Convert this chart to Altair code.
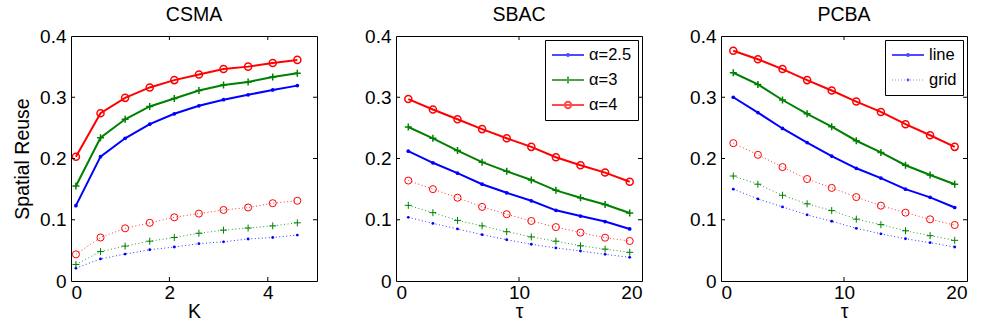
import altair as alt
import pandas as pd

# ---- data -------------------------------------------------------------
K = [0.1, 0.6, 1.1, 1.6, 2.1, 2.6, 3.1, 3.6, 4.1, 4.6]
TAU = [1, 3, 5, 7, 9, 11, 13, 15, 17, 19]
ALPHAS = ["α=2.5", "α=3", "α=4"]
KINDS = ["line", "grid"]

csma_line = [
    [0.123, 0.203, 0.233, 0.256, 0.273, 0.286, 0.296, 0.304, 0.312, 0.319],
    [0.155, 0.234, 0.264, 0.285, 0.298, 0.311, 0.320, 0.325, 0.333, 0.339],
    [0.203, 0.274, 0.299, 0.316, 0.328, 0.337, 0.346, 0.350, 0.356, 0.361],
]
csma_grid = [
    [0.021, 0.036, 0.044, 0.051, 0.0555, 0.061, 0.064, 0.0686, 0.071, 0.075],
    [0.027, 0.048, 0.057, 0.065, 0.071, 0.078, 0.083, 0.0865, 0.090, 0.095],
    [0.0435, 0.071, 0.086, 0.095, 0.104, 0.110, 0.116, 0.120, 0.127, 0.131],
]
sbac_line = [
    [0.212, 0.193, 0.176, 0.158, 0.144, 0.131, 0.1154, 0.106, 0.097, 0.085],
    [0.2514, 0.233, 0.213, 0.194, 0.179, 0.165, 0.148, 0.136, 0.125, 0.111],
    [0.297, 0.280, 0.264, 0.248, 0.233, 0.219, 0.202, 0.189, 0.177, 0.162],
]
sbac_grid = [
    [0.104, 0.094, 0.085, 0.0756, 0.0674, 0.060, 0.054, 0.049, 0.0435, 0.0386],
    [0.1235, 0.1116, 0.099, 0.090, 0.0805, 0.072, 0.065, 0.0575, 0.052, 0.0468],
    [0.164, 0.150, 0.136, 0.121, 0.109, 0.098, 0.088, 0.079, 0.0707, 0.0653],
]
pcba_line = [
    [0.300, 0.275, 0.249, 0.226, 0.204, 0.184, 0.168, 0.150, 0.1366, 0.120],
    [0.340, 0.321, 0.2955, 0.273, 0.252, 0.229, 0.210, 0.189, 0.173, 0.158],
    [0.376, 0.362, 0.346, 0.328, 0.311, 0.293, 0.276, 0.256, 0.238, 0.219],
]
pcba_grid = [
    [0.150, 0.134, 0.121, 0.108, 0.0975, 0.086, 0.077, 0.069, 0.0626, 0.0555],
    [0.1714, 0.158, 0.140, 0.126, 0.115, 0.101, 0.092, 0.082, 0.074, 0.0664],
    [0.225, 0.206, 0.186, 0.1665, 0.152, 0.137, 0.123, 0.1116, 0.1007, 0.0914],
]

Y_TICKS = [0, 0.1, 0.2, 0.3, 0.4]

# ---- style ------------------------------------------------------------
FONT = "Liberation Sans"
COLORS = ["#0000ff", "#008000", "#ff0000"]
W, H = 246, 245
PLUS = "M-1,0L1,0M0,-1L0,1"


def circle_path(cx, r):
    return (f"M{cx + r},0A{r},{r} 0 1,1 {cx - r},0"
            f"A{r},{r} 0 1,1 {cx + r},0")


# legend glyphs: a short line with the marker in its middle
SOLID = "M-1,0L3,0"
DOTTED = "".join(f"M{-1 + 0.375 * i:.3f},0L{-0.92 + 0.375 * i:.3f},0" for i in range(11))
ALPHA_GLYPHS = [
    SOLID + circle_path(1, 0.12),
    SOLID + "M1,-0.45L1,0.45",
    SOLID + circle_path(1, 0.4),
]
KIND_GLYPHS = [SOLID + circle_path(1, 0.12), DOTTED + circle_path(1, 0.1)]

Y_SCALE = alt.Scale(domain=[0, 0.4], nice=False, zero=False)


def legend(**kw):
    return alt.Legend(
        title=None, orient="top-right", offset=4, padding=6,
        strokeColor="black", fillColor="white",
        labelFont=FONT, labelFontSize=16.5, labelColor="black",
        symbolSize=256, labelOffset=20, rowPadding=7, **kw,
    )


def panel(title, xs, lines, grids, xdom, xticks, xtitle, ytitle, extra=None):
    x_scale = alt.Scale(domain=xdom, nice=False, zero=False)
    x_enc = alt.X("x:Q", scale=x_scale, axis=alt.Axis(
        values=xticks, title=xtitle, format="d", ticks=False, domain=False, grid=False,
        labelPadding=2, titlePadding=0))
    y_enc = alt.Y("y:Q", scale=Y_SCALE, axis=alt.Axis(
        values=Y_TICKS, title=ytitle, ticks=False, domain=False, grid=False,
        labelExpr="datum.value == 0 ? '0' : format(datum.value, '.1f')",
        labelPadding=5, titlePadding=7))

    layers = []
    for kind, table in (("grid", grids), ("line", lines)):
        solid = kind == "line"
        for i, vals in enumerate(table):
            base = alt.Chart(pd.DataFrame({"x": xs, "y": vals})).encode(x=x_enc, y=y_enc)
            if solid:
                layers.append(base.mark_line(color=COLORS[i], strokeWidth=2))
            else:
                layers.append(base.mark_line(color=COLORS[i], strokeWidth=1,
                                             strokeDash=[1, 2.5], opacity=0.8))
            sw = 1.5 if solid else 1.0
            if i == 0:
                mk = base.mark_point(shape="circle", filled=True, color=COLORS[i],
                                     size=14 if solid else 8, opacity=1)
            elif i == 1:
                mk = base.mark_point(shape=PLUS, filled=False, color=COLORS[i],
                                     size=49, strokeWidth=sw, opacity=1)
            else:
                mk = base.mark_point(shape="circle", filled=False, color=COLORS[i],
                                     size=50, strokeWidth=sw, opacity=1)
            layers.append(mk)

    # inward tick marks on all four sides
    ytk = alt.Chart(pd.DataFrame({"y": Y_TICKS[1:-1]}))
    xtk = alt.Chart(pd.DataFrame({"x": [t for t in xticks if xdom[0] < t < xdom[1]]}))
    rule = dict(color="black", strokeWidth=1)
    layers += [
        ytk.mark_rule(**rule).encode(y=alt.Y("y:Q", scale=Y_SCALE), x=alt.value(0), x2=alt.value(4)),
        ytk.mark_rule(**rule).encode(y=alt.Y("y:Q", scale=Y_SCALE), x=alt.value(W - 4), x2=alt.value(W)),
        xtk.mark_rule(**rule).encode(x=alt.X("x:Q", scale=x_scale), y=alt.value(H - 4), y2=alt.value(H)),
        xtk.mark_rule(**rule).encode(x=alt.X("x:Q", scale=x_scale), y=alt.value(0), y2=alt.value(4)),
    ]
    if extra is not None:
        layers.append(extra(x_enc, y_enc))
    return alt.layer(*layers).properties(
        width=W, height=H,
        title=alt.TitleParams(title, font=FONT, fontSize=19.5, fontWeight="normal",
                              color="black", frame="group", offset=2),
    )


def alpha_legend(x_enc, y_enc):
    df = pd.DataFrame({"x": [1] * 3, "y": [-1] * 3, "series": ALPHAS})
    leg = legend(symbolStrokeWidth=2)
    return alt.Chart(df).mark_point(clip=True, filled=False, size=256, strokeWidth=2).encode(
        x=x_enc, y=y_enc,
        shape=alt.Shape("series:N", scale=alt.Scale(domain=ALPHAS, range=ALPHA_GLYPHS), legend=leg),
        color=alt.Color("series:N", scale=alt.Scale(domain=ALPHAS, range=COLORS), legend=leg),
    )


def kind_legend(x_enc, y_enc):
    df = pd.DataFrame({"x": [1] * 2, "y": [-1] * 2, "series": KINDS})
    leg = legend(symbolStrokeColor="#0000ff")
    return alt.Chart(df).mark_point(clip=True, filled=False, size=256, color="#0000ff").encode(
        x=x_enc, y=y_enc,
        shape=alt.Shape("series:N", scale=alt.Scale(domain=KINDS, range=KIND_GLYPHS), legend=leg),
        strokeWidth=alt.StrokeWidth("series:N", scale=alt.Scale(domain=KINDS, range=[2, 1.2]), legend=leg),
    )


p1 = panel("CSMA", K, csma_line, csma_grid, [0, 5], [0, 2, 4], "K", "Spatial Reuse")
p2 = panel("SBAC", TAU, sbac_line, sbac_grid, [0, 20], [0, 10, 20], "τ", None, alpha_legend)
p3 = panel("PCBA", TAU, pcba_line, pcba_grid, [0, 20], [0, 10, 20], "τ", None, kind_legend)

chart = alt.hconcat(p1, p2, p3, spacing=79, bounds="flush").resolve_scale(
    x="independent", shape="independent", color="independent", strokeWidth="independent",
).resolve_legend(
    shape="independent", color="independent", strokeWidth="independent",
).properties(
    autosize=alt.AutoSizeParams(type="none"),
    padding={"left": 71, "top": 36, "right": 910, "bottom": 296},
).configure_view(stroke="black", strokeWidth=1).configure_axis(
    labelFont=FONT, labelFontSize=19, labelColor="black",
    titleFont=FONT, titleFontSize=19.5, titleFontWeight="normal", titleColor="black",
    grid=False,
)

chart.save("out.html", embed_options={"renderer": "svg", "actions": False})
